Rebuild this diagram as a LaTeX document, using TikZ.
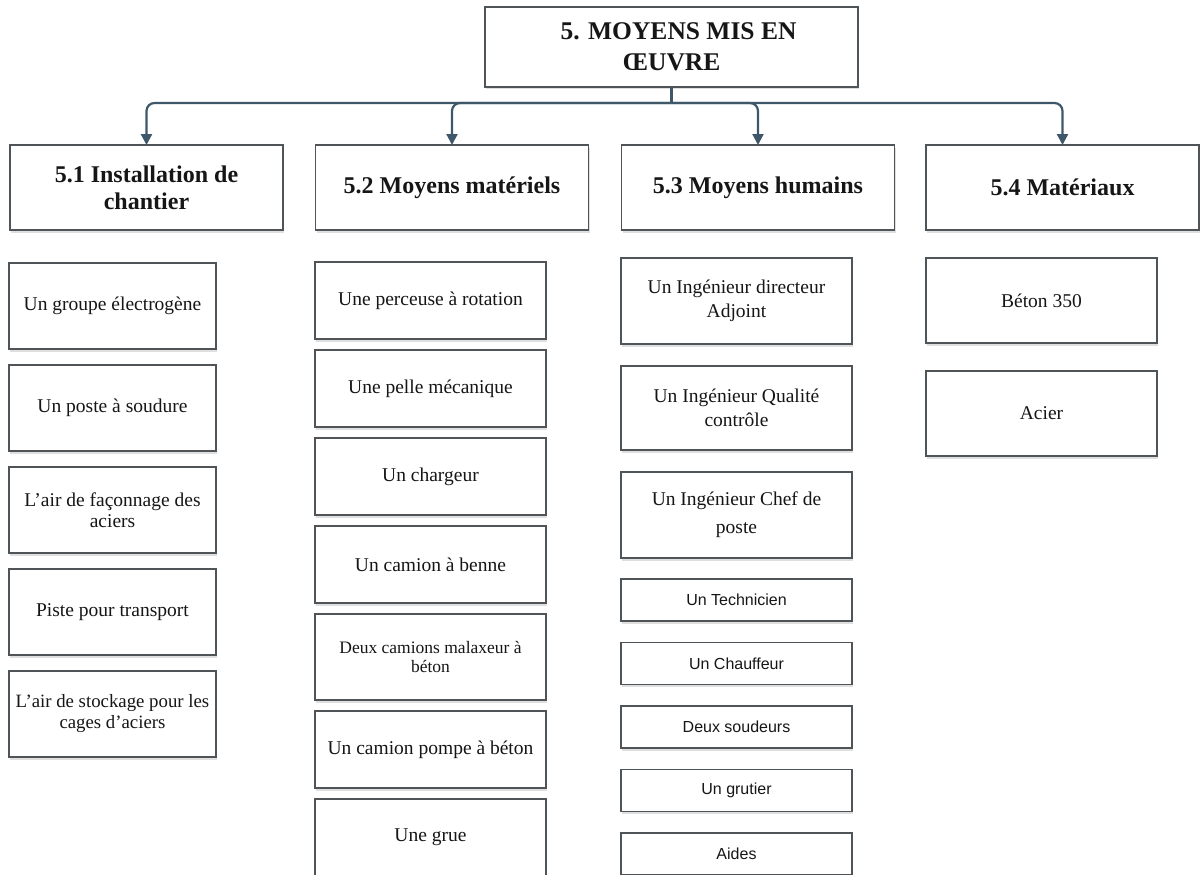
\documentclass[tikz,border=0pt]{standalone}
\usepackage{fontspec}
\setmainfont{Liberation Serif}
\newfontfamily\staffsans{Liberation Sans}
\usepackage{xcolor}
\usetikzlibrary{arrows.meta, positioning, shadows}
\definecolor{frameGray}{RGB}{78,84,88}
\definecolor{railBlue}{RGB}{62,88,105}
\definecolor{inkText}{RGB}{22,22,22}
\tikzset{
    softshadow/.style={
        drop shadow={shadow xshift=1.2pt, shadow yshift=-2.5pt, opacity=0.25}
    },
    titlebox/.style={
        rectangle,
        draw=frameGray,
        line width=1.9pt,
        outer sep=0pt,
        fill=white,
        softshadow,
        align=center,
        text=inkText,
        minimum width=373pt,
        minimum height=80pt,
        font=\fontsize{25.5}{31}\selectfont\bfseries
    },
    secbox/.style={
        rectangle,
        draw=frameGray,
        line width=1.9pt,
        outer sep=0pt,
        fill=white,
        softshadow,
        align=center,
        text=inkText,
        minimum width=273pt,
        minimum height=85pt,
        font=\fontsize{24}{27}\selectfont\bfseries
    },
    itembox/.style={
        rectangle,
        draw=frameGray,
        line width=1.9pt,
        outer sep=0pt,
        fill=white,
        softshadow,
        align=center,
        text=inkText,
        inner xsep=1pt,
        minimum width=231pt,
        minimum height=86pt,
        font=\fontsize{19.5}{21}\selectfont
    },
    staffbox/.style={
        itembox,
        minimum height=42pt,
        font=\staffsans\fontsize{16}{18}\selectfont
    },
    railline/.style={line width=2.2pt, draw=railBlue},
    flowarrow/.style={-{Triangle[length=11pt, width=11pt]}, line width=2.2pt, draw=railBlue, rounded corners=8pt}
}

\begin{document}
\begin{tikzpicture}[x=1pt, y=-1pt]
    \useasboundingbox (0,0) rectangle (1200,875);

    % titre et sections
    \node[titlebox] (title) at (671.5,47) {\hspace*{14pt}5. MOYENS MIS EN\\ŒUVRE};
    \node[secbox] (sec1) at (146.5,187.5) {5.1 Installation de\\chantier};
    \node[secbox] (sec2) at (452,187.5) {5.2 Moyens matériels};
    \node[secbox] (sec3) at (758,187.5) {5.3 Moyens humains};
    \node[secbox] (sec4) at (1062.5,187.5) {5.4 Matériaux};

    \draw[railline] (title.south) -- ++(0,16) coordinate (hub);
    \draw[flowarrow] (hub) -| (sec1.north);
    \draw[flowarrow] (hub) -| (sec2.north);
    \draw[flowarrow] (hub) -| (sec3.north);
    \draw[flowarrow] (hub) -| (sec4.north);

    % 5.1 installation de chantier
    \node[itembox, minimum width=207pt] (inst1) at (112.5,306) {Un groupe électrogène};
    \node[itembox, minimum width=207pt, below=16pt of inst1] (inst2) {Un poste à soudure};
    \node[itembox, minimum width=207pt, below=16pt of inst2] (inst3) {L’air de façonnage des\\aciers};
    \node[itembox, minimum width=207pt, below=16pt of inst3] (inst4) {Piste pour transport};
    \node[itembox, minimum width=207pt, below=16pt of inst4, font=\fontsize{18.8}{21}\selectfont] (inst5) {L’air de stockage pour les\\cages d’aciers};

    % 5.2 moyens materiels
    \node[itembox, minimum height=77pt] (mat1) at (430.5,300.5) {Une perceuse à rotation};
    \node[itembox, minimum height=77pt, below=11pt of mat1] (mat2) {Une pelle mécanique};
    \node[itembox, minimum height=77pt, below=11pt of mat2] (mat3) {Un chargeur};
    \node[itembox, minimum height=77pt, below=11pt of mat3] (mat4) {Un camion à benne};
    \node[itembox, below=11pt of mat4, font=\fontsize{17.5}{19}\selectfont] (mat5) {Deux camions malaxeur à\\béton};
    \node[itembox, minimum height=77pt, below=11pt of mat5] (mat6) {Un camion pompe à béton};
    \node[itembox, minimum height=77pt, below=11pt of mat6] (mat7) {Une grue};

    % 5.3 moyens humains
    \node[itembox, font=\fontsize{19.5}{24}\selectfont] (hum1) at (736.5,301) {Un Ingénieur directeur\\Adjoint};
    \node[itembox, minimum height=84pt, below=22pt of hum1, font=\fontsize{19.5}{24}\selectfont] (hum2) {Un Ingénieur Qualité\\contrôle};
    \node[itembox, below=22pt of hum2, font=\fontsize{19.5}{28}\selectfont] (hum3) {Un Ingénieur Chef de\\poste};
    \node[staffbox, below=21pt of hum3] (hum4) {Un Technicien};
    \node[staffbox, below=21.5pt of hum4] (hum5) {Un Chauffeur};
    \node[staffbox, below=21.5pt of hum5] (hum6) {Deux soudeurs};
    \node[staffbox, below=21.5pt of hum6] (hum7) {Un grutier};
    \node[staffbox, below=21.5pt of hum7] (hum8) {Aides};

    % 5.4 materiaux
    \node[itembox, minimum height=85pt] (mx1) at (1041.5,300.5) {Béton 350};
    \node[itembox, minimum height=85pt, below=28pt of mx1] (mx2) {Acier};
\end{tikzpicture}
\end{document}
